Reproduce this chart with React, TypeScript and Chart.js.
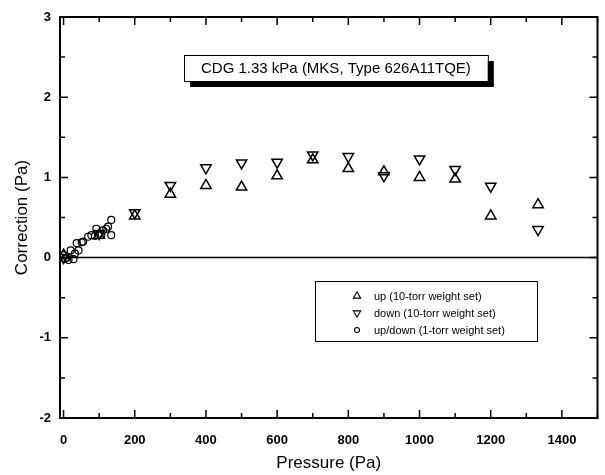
import React, { useEffect, useRef } from 'react';
import { Chart, registerables } from 'chart.js';

Chart.register(...registerables);

// ---------- data ----------
const xTickValues = [0, 200, 400, 600, 800, 1000, 1200, 1400];
const yTickValues = [-2, -1, 0, 1, 2, 3];

const pressureTen = [0, 100, 200, 300, 400, 500, 600, 700, 800, 900, 1000, 1100, 1200, 1333];
const upTen = [0.03, 0.28, 0.52, 0.79, 0.9, 0.88, 1.02, 1.22, 1.11, 1.07, 1.0, 0.98, 0.52, 0.66];
const downTen = [0.0, 0.3, 0.56, 0.9, 1.12, 1.18, 1.19, 1.28, 1.26, 1.02, 1.23, 1.1, 0.89, 0.35];

const pressureOne = [0, 5, 14, 28, 20, 32, 42, 37, 51, 55, 69, 78, 88, 92, 101, 106, 111, 120, 125, 134, 134, 10];
const corrOne = [0.03, -0.01, -0.03, -0.02, 0.09, 0.05, 0.09, 0.18, 0.19, 0.2, 0.26, 0.28, 0.27, 0.36, 0.3, 0.28, 0.34, 0.36, 0.385, 0.47, 0.28, 0.0];

const seriesLabels = ['up (10-torr weight set)', 'down (10-torr weight set)', 'up/down (1-torr weight set)'];
const titleText = 'CDG 1.33 kPa (MKS, Type 626A11TQE)';
const xTitle = 'Pressure (Pa)';
const yTitle = 'Correction (Pa)';

const FONT = "'Liberation Sans', Arial, Helvetica, sans-serif";

function drawMarker(ctx: CanvasRenderingContext2D, style: string, rot: number, x: number, y: number, r: number) {
  ctx.beginPath();
  if (style === 'circle') {
    ctx.arc(x, y, r, 0, Math.PI * 2);
  } else {
    let rad = (rot * Math.PI) / 180;
    ctx.moveTo(x + Math.sin(rad) * r, y - Math.cos(rad) * r);
    rad += (2 * Math.PI) / 3;
    ctx.lineTo(x + Math.sin(rad) * r, y - Math.cos(rad) * r);
    rad += (2 * Math.PI) / 3;
    ctx.lineTo(x + Math.sin(rad) * r, y - Math.cos(rad) * r);
    ctx.closePath();
  }
  ctx.stroke();
}

const framePlugin = {
  id: 'framePlugin',
  afterDraw(chart: any) {
    const { ctx, chartArea, scales } = chart;
    const { left, right, top, bottom } = chartArea;
    const xs = scales.x;
    const ys = scales.y;
    ctx.save();
    ctx.strokeStyle = '#000';
    ctx.lineCap = 'butt';

    // zero line
    ctx.lineWidth = 1.5;
    const y0 = ys.getPixelForValue(0);
    ctx.beginPath();
    ctx.moveTo(left, y0);
    ctx.lineTo(right, y0);
    ctx.stroke();

    // frame
    ctx.lineWidth = 2;
    ctx.strokeRect(left, top, right - left, bottom - top);

    // inward ticks
    ctx.lineWidth = 1.5;
    ctx.beginPath();
    for (let v = 0; v <= 1500; v += 100) {
      const px = xs.getPixelForValue(v);
      const len = v % 200 === 0 ? 8 : 5;
      ctx.moveTo(px, bottom);
      ctx.lineTo(px, bottom - len);
      ctx.moveTo(px, top);
      ctx.lineTo(px, top + len);
    }
    for (let v = -2; v <= 3; v += 0.5) {
      const py = ys.getPixelForValue(v);
      const len = Number.isInteger(v) ? 8 : 5;
      ctx.moveTo(left, py);
      ctx.lineTo(left + len, py);
      ctx.moveTo(right, py);
      ctx.lineTo(right - len, py);
    }
    ctx.stroke();

    // title box with drop shadow
    ctx.font = `15px ${FONT}`;
    const tw = ctx.measureText(titleText).width;
    const bx = 184, by = 55, bw = tw + 34, bh = 26;
    ctx.fillStyle = '#000';
    ctx.fillRect(bx + 6, by + 6, bw, bh);
    ctx.fillStyle = '#fff';
    ctx.fillRect(bx, by, bw, bh);
    ctx.lineWidth = 1;
    ctx.strokeRect(bx + 0.5, by + 0.5, bw, bh);
    ctx.fillStyle = '#000';
    ctx.textBaseline = 'middle';
    ctx.textAlign = 'left';
    ctx.fillText(titleText, bx + 17, by + bh / 2 + 1);

    // legend box
    const lx = 315, ly = 281, lw = 222, lh = 60;
    ctx.lineWidth = 1;
    ctx.strokeRect(lx + 0.5, ly + 0.5, lw, lh);
    ctx.font = `11px ${FONT}`;
    const rows = [296, 313, 330];
    chart.data.datasets.forEach((ds: any, i: number) => {
      const sy = rows[i];
      ctx.strokeStyle = '#000';
      ctx.lineWidth = 1.1;
      drawMarker(ctx, ds.pointStyle, ds.pointRotation || 0, 357, sy, ds.pointStyle === 'circle' ? 2.5 : 4.2);
      ctx.fillStyle = '#000';
      ctx.fillText(ds.label, 374, sy + 1);
    });
    ctx.restore();
  },
};

export default function App() {
  const ref = useRef<HTMLCanvasElement | null>(null);
  useEffect(() => {
    if (!ref.current) return;
    const toPts = (xs: number[], ys: number[]) => xs.map((x, i) => ({ x, y: ys[i] }));
    const chart = new Chart(ref.current, {
      type: 'scatter',
      data: {
        datasets: [
          {
            label: seriesLabels[0],
            data: toPts(pressureTen, upTen),
            pointStyle: 'triangle',
            pointRadius: 6,
            borderColor: '#000',
            backgroundColor: 'rgba(0,0,0,0)',
            borderWidth: 1.5,
          },
          {
            label: seriesLabels[1],
            data: toPts(pressureTen, downTen),
            pointStyle: 'triangle',
            pointRotation: 180,
            pointRadius: 6,
            borderColor: '#000',
            backgroundColor: 'rgba(0,0,0,0)',
            borderWidth: 1.5,
          },
          {
            label: seriesLabels[2],
            data: toPts(pressureOne, corrOne),
            pointStyle: 'circle',
            pointRadius: 3.5,
            borderColor: '#000',
            backgroundColor: 'rgba(0,0,0,0)',
            borderWidth: 1.2,
          },
        ] as any,
      },
      options: {
        animation: false,
        responsive: false,
        devicePixelRatio: 1,
        layout: { padding: { top: 17, right: 2, left: 0, bottom: 0 } },
        plugins: {
          legend: { display: false },
          tooltip: { enabled: false },
        },
        scales: {
          x: {
            type: 'linear',
            min: -10,
            max: 1500,
            grid: { display: false, drawTicks: false },
            border: { display: false },
            afterFit: (s: any) => {
              s.height = 57;
            },
            afterBuildTicks: (s: any) => {
              s.ticks = xTickValues.map((v) => ({ value: v }));
            },
            ticks: {
              color: '#000',
              padding: 15,
              maxRotation: 0,
              font: { family: FONT, size: 13, weight: 'bold' },
              callback: (v: any) => String(v),
            },
            title: {
              display: true,
              text: xTitle,
              color: '#000',
              font: { family: FONT, size: 17 },
              padding: { top: 0, bottom: 1 },
            },
          },
          y: {
            type: 'linear',
            min: -2,
            max: 3,
            grid: { display: false, drawTicks: false },
            border: { display: false },
            afterFit: (s: any) => {
              s.width = 60;
            },
            afterBuildTicks: (s: any) => {
              s.ticks = yTickValues.map((v) => ({ value: v }));
            },
            ticks: {
              color: '#000',
              padding: 9,
              font: { family: FONT, size: 13, weight: 'bold' },
              callback: (v: any) => String(v),
            },
            title: {
              display: true,
              text: yTitle,
              color: '#000',
              font: { family: FONT, size: 17 },
              padding: { top: 12, bottom: 0 },
            },
          },
        },
      } as any,
      plugins: [framePlugin],
    });
    return () => chart.destroy();
  }, []);
  return (
    <div style={{ position: 'absolute', left: 0, top: 0, width: 605, height: 475, background: '#fff' }}>
      <canvas ref={ref} width={605} height={475} style={{ width: 605, height: 475 }} />
    </div>
  );
}
